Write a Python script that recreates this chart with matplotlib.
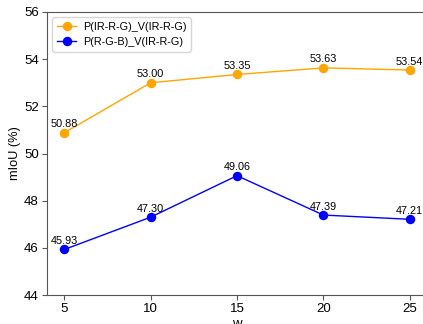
import matplotlib
matplotlib.use("Agg")
import matplotlib.pyplot as plt

plt.rcParams['font.family'] = ['Liberation Sans', 'DejaVu Sans']

w = [5, 10, 15, 20, 25]
irrg = [50.88, 53.00, 53.35, 53.63, 53.54]
rgb = [45.93, 47.30, 49.06, 47.39, 47.21]
labels = ["P(IR-R-G)_V(IR-R-G)", "P(R-G-B)_V(IR-R-G)"]

fig = plt.figure(figsize=(4.23, 3.24), dpi=100)
# the original picture is cropped on the right and bottom
ax = fig.add_axes([47 / 423, 29 / 324, 380 / 423, 283 / 324])

ax.plot(w, irrg, color="orange", marker="o", markersize=5.8, linewidth=1, label=labels[0])
ax.plot(w, rgb, color="blue", marker="o", markersize=5.8, linewidth=1, label=labels[1])

for series in (irrg, rgb):
    for x, y in zip(w, series):
        ax.annotate("{:.2f}".format(y), (x, y), textcoords="offset points",
                    xytext=(0, 2.5), ha="center", va="bottom", fontsize=7.8)

ax.set_xlim(4, 26)
ax.set_ylim(44, 56)
ax.set_xticks(w)
ax.set_yticks([44, 46, 48, 50, 52, 54, 56])
ax.tick_params(labelsize=9.5, color="#555555", pad=2.5)
ax.set_xlabel("w", fontsize=9.5, labelpad=2)
ax.set_ylabel("mIoU (%)", fontsize=9.2, labelpad=2)
for s in ax.spines.values():
    s.set_color("#555555")
ax.legend(loc="upper left", fontsize=7.8, handlelength=1.8, handletextpad=0.6)

fig.savefig("out.png", dpi=100)
